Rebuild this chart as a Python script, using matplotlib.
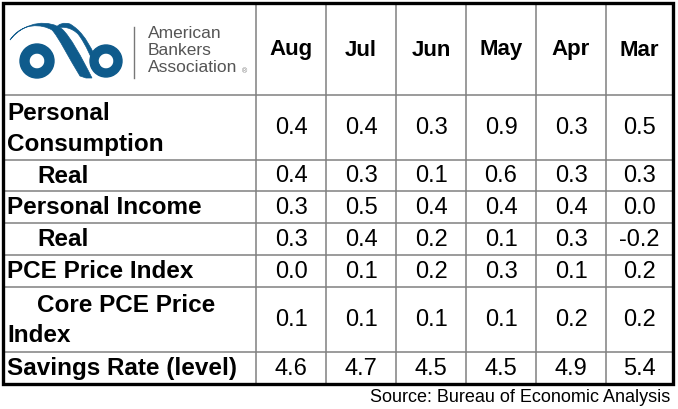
import matplotlib
matplotlib.use("Agg")
import matplotlib.pyplot as plt
from matplotlib.patches import Annulus, PathPatch, Rectangle
from matplotlib.path import Path

# ---- data ----
months = ["Aug", "Jul", "Jun", "May", "Apr", "Mar"]
row_labels = ["Personal\nConsumption", "Real", "Personal Income", "Real",
              "PCE Price Index", "Core PCE Price\nIndex", "Savings Rate (level)"]
indented = [False, True, False, True, False, True, False]
personal_consumption = [0.4, 0.4, 0.3, 0.9, 0.3, 0.5]
real_consumption = [0.4, 0.3, 0.1, 0.6, 0.3, 0.3]
personal_income = [0.3, 0.5, 0.4, 0.4, 0.4, 0.0]
real_income = [0.3, 0.4, 0.2, 0.1, 0.3, -0.2]
pce_price_index = [0.0, 0.1, 0.2, 0.3, 0.1, 0.2]
core_pce_price_index = [0.1, 0.1, 0.1, 0.1, 0.2, 0.2]
savings_rate = [4.6, 4.7, 4.5, 4.5, 4.9, 5.4]
values = [personal_consumption, real_consumption, personal_income, real_income,
          pce_price_index, core_pce_price_index, savings_rate]
source_text = "Source: Bureau of Economic Analysis"
logo_lines = ["American", "Bankers", "Association"]

# ---- layout (pixel space) ----
W, H = 678, 409
row_edges = [3, 95, 160, 191, 223, 255, 287, 352, 384]
col_edges = [3, 256, 326, 396, 466, 536, 606, 673]
FONT = "Liberation Sans"
GRID = "#808080"
BLUE = "#0f5b8c"

fig = plt.figure(figsize=(W / 100, H / 100), dpi=100)
ax = fig.add_axes([0, 0, 1, 1])
ax.set_xlim(0, W)
ax.set_ylim(H, 0)
ax.axis("off")

# inner grid
for y in row_edges[1:-1]:
    ax.plot([col_edges[0], col_edges[-1]], [y, y], color=GRID, lw=1.1, zorder=1)
for x in col_edges[1:-1]:
    ax.plot([x, x], [row_edges[0], row_edges[-1]], color=GRID, lw=1.1, zorder=1)
# outer thick border
ax.add_patch(Rectangle((col_edges[0], row_edges[0]), col_edges[-1] - col_edges[0],
                       row_edges[-1] - row_edges[0], fill=False, ec="black",
                       lw=2.4, zorder=3))

# headers
hy = (row_edges[0] + row_edges[1]) / 2 + 1
for i, m in enumerate(months):
    cx = (col_edges[i + 1] + col_edges[i + 2]) / 2
    ax.text(cx, hy, m, ha="center", va="center", fontsize=16, fontweight="bold",
            family=FONT, color="black")

# rows
for r, (lab, ind, vals) in enumerate(zip(row_labels, indented, values)):
    top, bot = row_edges[r + 1], row_edges[r + 2]
    cy = (top + bot) / 2
    lines = lab.split("\n")
    n = len(lines)
    for k, line in enumerate(lines):
        ly = cy + (k - (n - 1) / 2) * 31
        lx = 37 if (ind and k == 0) else 7
        ax.text(lx, ly + 1, line, ha="left", va="center", fontsize=17.5,
                fontweight="bold", family=FONT, color="black")
    for i, v in enumerate(vals):
        cx = (col_edges[i + 1] + col_edges[i + 2]) / 2
        ax.text(cx, cy + 1, f"{v:.1f}", ha="center", va="center", fontsize=17,
                family=FONT, color="black")

# source
ax.text(670, 398, source_text, ha="right", va="center", fontsize=13, family=FONT,
        color="black")

# ---- logo ----
ax.add_patch(Annulus((37, 61), 17, 9, color=BLUE, zorder=2))
ax.add_patch(Annulus((106, 61), 16, 8, color=BLUE, zorder=2))
# left curl swoosh
curl = Path([(10, 40), (22, 22), (42, 24), (52, 30),
             (58, 36), (70, 60), (80, 76),
             (86, 78), (92, 78), (92, 78),
             (82, 58), (70, 36), (62, 29),
             (50, 20), (26, 20), (10, 40)],
            [Path.MOVETO, Path.CURVE4, Path.CURVE4, Path.CURVE4,
             Path.CURVE4, Path.CURVE4, Path.CURVE4,
             Path.LINETO, Path.LINETO, Path.LINETO,
             Path.CURVE4, Path.CURVE4, Path.CURVE4,
             Path.CURVE4, Path.CURVE4, Path.CURVE4])
ax.add_patch(PathPatch(curl, fc=BLUE, ec=BLUE, lw=0.5, zorder=2))
rib = Path([(56, 28), (64, 26), (72, 28), (78, 34),
            (86, 44), (92, 60), (98, 72),
            (104, 74), (100, 66), (94, 54),
            (86, 38), (80, 30), (70, 24),
            (64, 22), (58, 24), (56, 28)],
           [Path.MOVETO, Path.CURVE4, Path.CURVE4, Path.CURVE4,
            Path.CURVE4, Path.CURVE4, Path.CURVE4,
            Path.LINETO, Path.LINETO, Path.LINETO,
            Path.CURVE4, Path.CURVE4, Path.CURVE4,
            Path.CURVE4, Path.CURVE4, Path.CURVE4])
ax.add_patch(PathPatch(rib, fc=BLUE, ec=BLUE, lw=0.5, zorder=2))
ax.plot([134, 134], [27, 78], color="#777777", lw=1.0)
for k, t in enumerate(logo_lines):
    ax.text(148, 34 + k * 16.5, t, ha="left", va="center", fontsize=12.5,
            family=FONT, color="#555555")
ax.text(242, 72, "®", ha="left", va="center", fontsize=5, family=FONT,
        color="#777777")

fig.savefig("out.png", dpi=100)
